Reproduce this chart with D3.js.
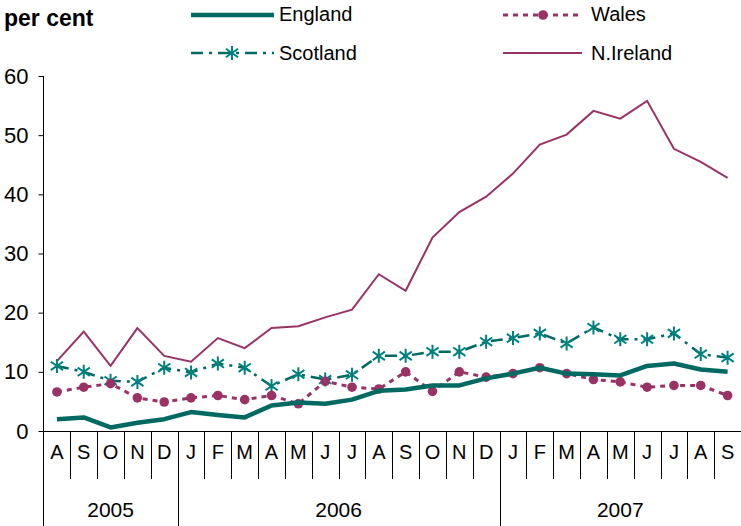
<!DOCTYPE html>
<html>
<head>
<meta charset="utf-8">
<script src="https://cdn.jsdelivr.net/npm/d3@7"></script>
<style>
  body { margin: 0; background: #fff; }
  svg text { font-family: "Liberation Sans", Arial, sans-serif; fill: #000; }
</style>
</head>
<body>
<div id="chart"></div>
<script>
(function() {
"use strict";

var months = ["A","S","O","N","D","J","F","M","A","M","J","J","A","S","O","N","D","J","F","M","A","M","J","J","A","S"];
var years = [{label: "2005", from: 0, to: 5}, {label: "2006", from: 5, to: 17}, {label: "2007", from: 17, to: 26}];
var yTicks = [0, 10, 20, 30, 40, 50, 60];

var england  = [2.0, 2.3, 0.6, 1.4, 2.0, 3.2, 2.7, 2.3, 4.3, 4.8, 4.6, 5.3, 6.8, 7.0, 7.7, 7.7, 8.9, 9.7, 10.7, 9.7, 9.6, 9.4, 11.0, 11.4, 10.4, 10.0];
var wales    = [6.6, 7.4, 8.0, 5.6, 4.9, 5.6, 6.0, 5.3, 6.0, 4.6, 8.4, 7.4, 7.1, 10.0, 6.7, 10.0, 9.1, 9.7, 10.7, 9.7, 8.7, 8.3, 7.4, 7.7, 7.7, 6.0];
var scotland = [11.0, 10.0, 8.5, 8.3, 10.7, 9.9, 11.4, 10.7, 7.6, 9.6, 8.7, 9.5, 12.7, 12.7, 13.4, 13.4, 15.1, 15.7, 16.5, 14.8, 17.5, 15.5, 15.5, 16.5, 13.0, 12.4];
var nireland = [11.8, 16.8, 11.0, 17.4, 12.7, 11.7, 15.7, 14.0, 17.4, 17.7, 19.2, 20.5, 26.5, 23.7, 32.7, 37.0, 39.6, 43.5, 48.4, 50.1, 54.1, 52.8, 55.8, 47.7, 45.5, 42.8];

var W = 741, H = 526;
var teal = "#006A62", tealLight = "#008080", plum = "#993366";

var svg = d3.select("#chart").append("svg")
    .attr("width", W).attr("height", H);

var x = d3.scaleBand().domain(d3.range(months.length)).range([43.5, 741]);
var y = d3.scaleLinear().domain([0, 60]).range([431, 76]);

// y axis
var yAxis = svg.append("g")
    .attr("transform", "translate(43.5,0)")
    .call(d3.axisLeft(y).tickValues(yTicks).tickSize(5).tickPadding(10));
yAxis.select(".domain").remove();
yAxis.selectAll(".tick line").attr("stroke", "#000");
yAxis.selectAll("text").style("font-size", "22px").attr("fill", "#000");
svg.append("line").attr("x1", 43.5).attr("x2", 43.5).attr("y1", y(60)).attr("y2", H)
    .attr("stroke", "#000");

// x axis
svg.append("line").attr("x1", 43.5).attr("x2", W).attr("y1", y(0) + 0.5).attr("y2", y(0) + 0.5)
    .attr("stroke", "#000");
var yearStarts = years.map(function(d) { return d.from; });
svg.selectAll(".mtick").data(d3.range(1, months.length + 1)).enter().append("line")
    .attr("x1", function(i) { return Math.round(x(i - 1) + x.bandwidth()) + 0.5; })
    .attr("x2", function(i) { return Math.round(x(i - 1) + x.bandwidth()) + 0.5; })
    .attr("y1", y(0))
    .attr("y2", function(i) { return yearStarts.indexOf(i) >= 0 ? H : 479; })
    .attr("stroke", "#000");
svg.selectAll(".mlabel").data(months).enter().append("text")
    .attr("x", function(d, i) { return x(i) + x.bandwidth() / 2; })
    .attr("y", 459)
    .attr("text-anchor", "middle")
    .style("font-size", "20px")
    .text(function(d) { return d; });
svg.selectAll(".ylabel").data(years).enter().append("text")
    .attr("x", function(d) { return (x(d.from) + (d.to < months.length ? x(d.to) : W)) / 2; })
    .attr("y", 517)
    .attr("text-anchor", "middle")
    .style("font-size", "21px")
    .text(function(d) { return d.label; });

svg.append("text").attr("x", 4).attr("y", 26)
    .style("font-size", "23px").style("font-weight", "bold")
    .text("per cent");

var line = d3.line()
    .x(function(d, i) { return x(i) + x.bandwidth() / 2; })
    .y(function(d) { return y(d); });

function star(g, cx, cy, r) {
    var p = "M" + cx + "," + (cy - r) + "V" + (cy + r) +
        "M" + (cx - r * 0.87) + "," + (cy - r * 0.6) + "L" + (cx + r * 0.87) + "," + (cy + r * 0.6) +
        "M" + (cx - r * 0.87) + "," + (cy + r * 0.6) + "L" + (cx + r * 0.87) + "," + (cy - r * 0.6);
    g.append("path").attr("d", p).attr("stroke", tealLight).attr("stroke-width", 2).attr("fill", "none");
}

// series
svg.append("path").datum(nireland).attr("d", line)
    .attr("fill", "none").attr("stroke", plum).attr("stroke-width", 2);
svg.append("path").datum(scotland).attr("d", line)
    .attr("fill", "none").attr("stroke", teal).attr("stroke-width", 2.5)
    .attr("stroke-dasharray", "12,6,3,6");
var sg = svg.append("g");
scotland.forEach(function(d, i) { star(sg, x(i) + x.bandwidth() / 2, y(d), 7); });
svg.append("path").datum(wales).attr("d", line)
    .attr("fill", "none").attr("stroke", plum).attr("stroke-width", 3)
    .attr("stroke-dasharray", "5,5");
svg.selectAll(".wdot").data(wales).enter().append("circle")
    .attr("cx", function(d, i) { return x(i) + x.bandwidth() / 2; })
    .attr("cy", function(d) { return y(d); })
    .attr("r", 4.8).attr("fill", plum);
svg.append("path").datum(england).attr("d", line)
    .attr("fill", "none").attr("stroke", teal).attr("stroke-width", 4.5)
    .attr("stroke-linejoin", "round");

// legend
var leg = svg.append("g");
leg.append("line").attr("x1", 191).attr("x2", 274).attr("y1", 15).attr("y2", 15)
    .attr("stroke", teal).attr("stroke-width", 4.5);
leg.append("text").attr("x", 279).attr("y", 21).style("font-size", "20px").text("England");
leg.append("line").attr("x1", 503).attr("x2", 582).attr("y1", 15).attr("y2", 15)
    .attr("stroke", plum).attr("stroke-width", 3).attr("stroke-dasharray", "5,5");
leg.append("circle").attr("cx", 543).attr("cy", 15).attr("r", 4.8).attr("fill", plum);
leg.append("text").attr("x", 591).attr("y", 21).style("font-size", "20px").text("Wales");
leg.append("line").attr("x1", 191).attr("x2", 274).attr("y1", 53).attr("y2", 53)
    .attr("stroke", teal).attr("stroke-width", 2.5).attr("stroke-dasharray", "12,6,3,6");
star(leg, 232, 53, 7);
leg.append("text").attr("x", 279).attr("y", 60).style("font-size", "20px").text("Scotland");
leg.append("line").attr("x1", 503).attr("x2", 582).attr("y1", 53).attr("y2", 53)
    .attr("stroke", plum).attr("stroke-width", 2);
leg.append("text").attr("x", 591).attr("y", 60).style("font-size", "20px").text("N.Ireland");

})();
</script>
</body>
</html>
